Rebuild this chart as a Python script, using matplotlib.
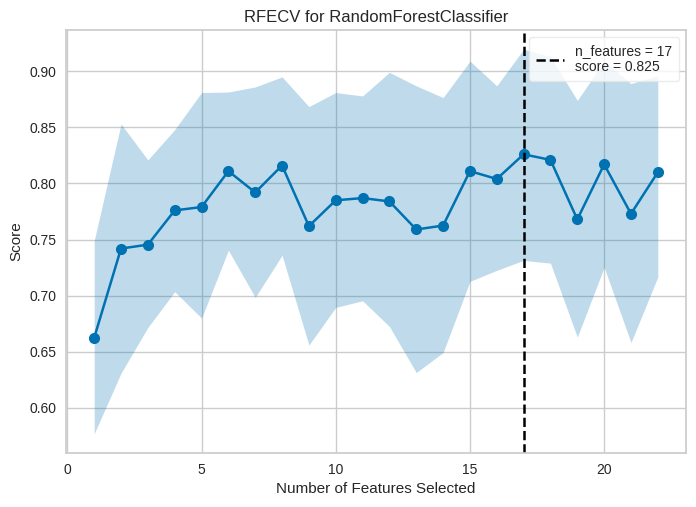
import numpy as np
import matplotlib.pyplot as plt

n_features = [1, 2, 3, 4, 5, 6, 7, 8, 9, 10, 11, 12, 13, 14, 15, 16, 17, 18, 19, 20, 21, 22]
score_moyen = [0.6625, 0.742, 0.7455, 0.776, 0.779, 0.811, 0.792, 0.816, 0.762, 0.785, 0.787,
               0.784, 0.759, 0.7625, 0.811, 0.804, 0.826, 0.821, 0.768, 0.817, 0.773, 0.810]
score_haut = [0.749, 0.853, 0.821, 0.848, 0.881, 0.8815, 0.886, 0.895, 0.8685, 0.881, 0.878,
              0.899, 0.887, 0.8765, 0.909, 0.887, 0.9196, 0.913, 0.874, 0.909, 0.889, 0.896]
score_bas = [0.577, 0.631, 0.6717, 0.7036, 0.680, 0.7405, 0.6985, 0.736, 0.656, 0.6896, 0.6955,
             0.6726, 0.6315, 0.6494, 0.7128, 0.7226, 0.7315, 0.729, 0.6631, 0.7253, 0.6583, 0.7167]
n_optimal = 17
score_optimal = 0.825

bleu = "#0072B2"
texte = "#262626"

plt.rcParams["font.family"] = ["Liberation Sans", "DejaVu Sans"]
plt.rcParams["text.color"] = texte
plt.rcParams["axes.labelcolor"] = texte
plt.rcParams["xtick.color"] = texte
plt.rcParams["ytick.color"] = texte

fig = plt.figure(figsize=(6.96, 5.07), dpi=100)
ax = fig.add_axes([66 / 696, 54 / 507, 620 / 696, 423 / 507])

ax.fill_between(n_features, score_bas, score_haut, color=bleu, alpha=0.25, linewidth=0)
ax.plot(n_features, score_moyen, marker="o", color=bleu, linewidth=1.8, markersize=7)
ax.axvline(n_optimal, color="black", linestyle="--", linewidth=1.8,
           label="n_features = {}\nscore = {:.3f}".format(n_optimal, score_optimal))

ax.set_title("RFECV for RandomForestClassifier", fontsize=12)
ax.set_xlabel("Number of Features Selected", fontsize=11)
ax.set_ylabel("Score", fontsize=11)
ax.set_xticks([0, 5, 10, 15, 20])
ax.set_yticks([0.60, 0.65, 0.70, 0.75, 0.80, 0.85, 0.90])
ax.set_yticklabels(["{:.2f}".format(v) for v in ax.get_yticks()])
ax.tick_params(labelsize=10, length=0, pad=7)

ax.set_facecolor("white")
ax.grid(True, color="#cccccc", linewidth=1)
ax.set_axisbelow(True)
for spine in ax.spines.values():
    spine.set_color("#cccccc")
    spine.set_linewidth(1.25)

leg = ax.legend(loc="upper right", fontsize=10, frameon=True, handlelength=2.0,
                labelspacing=0.1, borderpad=0.5)
leg.get_frame().set_edgecolor("#e6e6e6")
leg.get_frame().set_alpha(0.8)

fig.savefig("out.png", dpi=100)
